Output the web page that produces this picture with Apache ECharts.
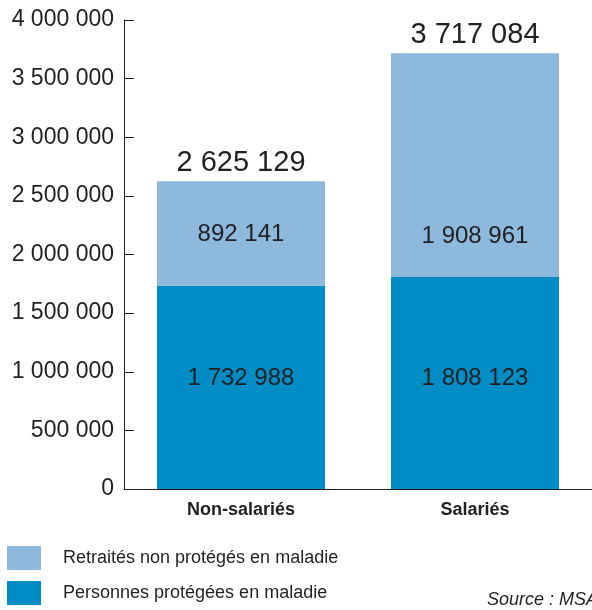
<!DOCTYPE html>
<html>
<head>
<meta charset="utf-8">
<script src="https://cdn.jsdelivr.net/npm/echarts@6/dist/echarts.min.js"></script>
<style>
  html, body { margin: 0; padding: 0; background: #fff; }
  #chart { width: 592px; height: 610px; }
</style>
</head>
<body>
<div id="chart"></div>
<script>
const categories = ['Non-salariés', 'Salariés']
const protegees = [1732988, 1808123]
const retraites = [892141, 1908961]
const totals = [2625129, 3717084]
const yTicks = [0, 500000, 1000000, 1500000, 2000000, 2500000, 3000000, 3500000, 4000000]

const textColor = '#231f20'
const font = '"Liberation Sans", Arial, sans-serif'

// 1 234 567 style
const fmt = v => String(v).replace(/\B(?=(\d{3})+(?!\d))/g, ' ')

const chart = echarts.init(document.getElementById('chart'))

chart.setOption({
  animation: false,
  textStyle: { fontFamily: font, color: textColor },
  grid: { left: 124, right: 0, top: 20, bottom: 121 },
  legend: {
    orient: 'vertical',
    left: 7,
    top: 546,
    padding: 0,
    itemWidth: 34,
    itemHeight: 24,
    itemGap: 11,
    icon: 'rect',
    data: [
      { name: 'Retraités non protégés en maladie', textStyle: { padding: [0, 0, 0, 17] } },
      { name: 'Personnes protégées en maladie', textStyle: { padding: [14, 0, 0, 17] } }
    ],
    textStyle: { fontSize: 18, color: textColor, fontFamily: font },
    selectedMode: false
  },
  xAxis: {
    type: 'category',
    data: categories,
    axisLine: { lineStyle: { color: textColor, width: 1 } },
    axisTick: { inside: true, length: 12, lineStyle: { color: textColor } },
    axisLabel: { fontSize: 18, fontWeight: 'bold', color: textColor, margin: 12 }
  },
  yAxis: {
    type: 'value',
    min: 0,
    max: 4000000,
    interval: 500000,
    splitLine: { show: false },
    axisLine: { show: true, lineStyle: { color: textColor, width: 1 } },
    axisTick: { show: true, inside: true, length: 10, lineStyle: { color: textColor } },
    axisLabel: {
      fontSize: 23,
      color: textColor,
      margin: 10,
      formatter: v => yTicks.includes(v) ? fmt(v) : ''
    }
  },
  graphic: [{
    type: 'text',
    left: 487,
    top: 591,
    style: {
      text: 'Source : MSA',
      font: 'italic 18px ' + font,
      fill: textColor
    }
  }],
  series: [
    {
      name: 'Personnes protégées en maladie',
      type: 'bar',
      stack: 'total',
      barWidth: 168,
      itemStyle: { color: '#008dc6' },
      label: {
        show: true,
        position: 'insideBottom',
        distance: 99,
        fontSize: 24,
        color: textColor,
        formatter: p => fmt(p.value)
      },
      data: protegees
    },
    {
      name: 'Retraités non protégés en maladie',
      type: 'bar',
      stack: 'total',
      barWidth: 168,
      itemStyle: { color: '#8db9dd' },
      label: {
        show: true,
        position: 'insideBottom',
        fontSize: 24,
        color: textColor,
        formatter: p => fmt(p.value)
      },
      data: retraites.map((v, i) => ({ value: v, label: { distance: [39, 29][i] } }))
    },
    {
      name: 'total',
      type: 'bar',
      stack: 'total',
      barWidth: 168,
      itemStyle: { color: 'transparent' },
      label: {
        show: true,
        position: 'top',
        distance: 4,
        fontSize: 29,
        color: textColor,
        formatter: p => fmt(totals[p.dataIndex])
      },
      data: totals.map(() => 0)
    }
  ]
})
</script>
</body>
</html>
